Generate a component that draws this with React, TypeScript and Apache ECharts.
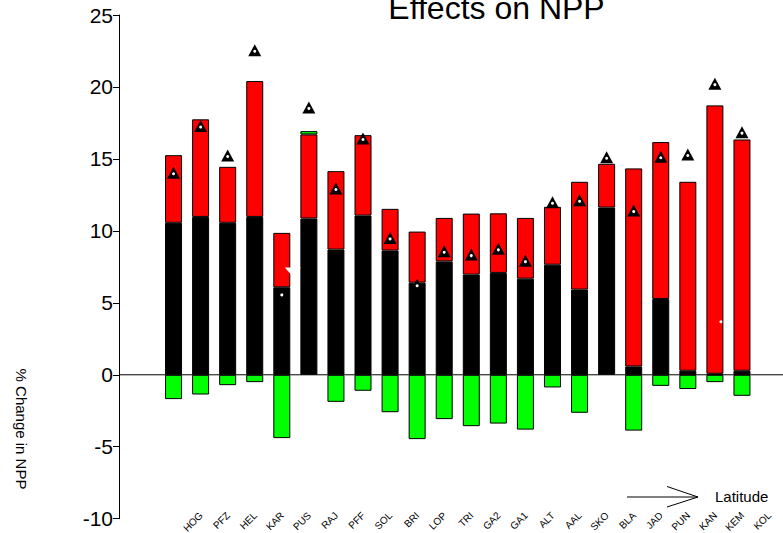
import React, { useEffect, useRef } from "react";
import * as echarts from "echarts";

const FONT = "'Liberation Sans', Arial, Helvetica, sans-serif";

const categories = [
  "HOG", "PFZ", "HEL", "KAR", "PUS", "RAJ", "PFF", "SOL", "BRI", "LOP", "TRI",
  "GA2", "GA1", "ALT", "AAL", "SKO", "BLA", "JAD", "PUN", "KAN", "KEM", "KOL",
];

// black component (bottom of positive stack)
const blackValues = [
  10.56, 10.97, 10.56, 10.97, 6.08, 10.86, 8.7, 11.06, 8.63, 6.4, 7.88,
  6.96, 7.08, 6.68, 7.65, 5.92, 11.62, 0.58, 5.27, 0.28, 0.07, 0.28,
];

// red component (stacked on black)
const redValues = [
  4.7, 6.78, 3.89, 9.44, 3.78, 5.84, 5.45, 5.59, 2.9, 3.55, 3.02,
  4.24, 4.14, 4.22, 4.02, 7.49, 3.04, 13.76, 10.9, 13.13, 18.65, 16.07,
];

// green component (mostly negative)
const greenValues: (number | null)[] = [
  -1.69, -1.37, -0.72, -0.51, -4.4, 0.23, -1.88, -1.11, -2.6, -4.47, -3.08,
  -3.57, -3.39, -3.81, -0.88, -2.64, null, -3.88, -0.77, -0.99, -0.51, -1.46,
];

// net effect (triangles)
const netValues = [
  14.04, 17.28, 15.24, 22.55, 5.62, 18.58, 12.94, 16.42, 9.51, 6.26, 8.58,
  8.35, 8.75, 7.93, 11.99, 12.13, 15.12, 11.41, 15.15, 15.31, 20.23, 16.86,
];

// stray white marks seen in the figure: [category index, value]
const strayWhiteTriangle = [[4, 7.15]];
const strayWhiteDot = [[20, 3.69]];

const Y_MIN = -10;
const Y_MAX = 25;
const Y_STEP = 5;

export default function App() {
  const ref = useRef<HTMLDivElement>(null);

  useEffect(() => {
    if (!ref.current) return;
    const chart = echarts.init(ref.current, undefined, { renderer: "svg" });
    const barBase = {
      type: "bar" as const,
      stack: "npp",
      barWidth: 17,
    };
    chart.setOption({
      animation: false,
      grid: { left: 160, right: 27.5, top: 15, bottom: 14.3, containLabel: false },
      xAxis: {
        type: "category",
        data: categories,
        axisLine: { show: false },
        axisTick: { show: false },
        axisLabel: { show: false },
        splitLine: { show: false },
      },
      yAxis: {
        type: "value",
        min: Y_MIN,
        max: Y_MAX,
        interval: Y_STEP,
        offset: 41,
        axisLine: { show: true, lineStyle: { color: "#000", width: 1 } },
        axisTick: { show: true, length: 6, lineStyle: { color: "#000", width: 1 } },
        axisLabel: { color: "#000", fontSize: 21, margin: 6, fontFamily: FONT },
        splitLine: { show: false },
      },
      series: [
        {
          ...barBase,
          name: "black",
          data: blackValues,
          itemStyle: { color: "#000000", borderColor: "#000", borderWidth: 1 },
        },
        {
          ...barBase,
          name: "red",
          data: redValues,
          itemStyle: { color: "#ff0000", borderColor: "#000", borderWidth: 1 },
        },
        {
          ...barBase,
          name: "green",
          data: greenValues,
          itemStyle: { color: "#00ff00", borderColor: "#000", borderWidth: 1 },
        },
        {
          type: "scatter",
          name: "net",
          data: netValues,
          symbol: "triangle",
          symbolSize: [13, 12],
          itemStyle: { color: "#000", opacity: 1 },
          z: 5,
        },
        {
          type: "scatter",
          name: "netDot",
          data: netValues,
          symbol: "circle",
          symbolSize: 3,
          symbolOffset: [0, 1],
          itemStyle: { color: "#fff", opacity: 1 },
          z: 6,
        },
        {
          type: "scatter",
          name: "strayTri",
          data: strayWhiteTriangle,
          symbol: "triangle",
          symbolRotate: 180,
          symbolSize: [16, 9],
          symbolOffset: [11, 0],
          itemStyle: { color: "#fff", opacity: 1 },
          z: 7,
        },
        {
          type: "scatter",
          name: "strayDot",
          data: strayWhiteDot,
          symbol: "circle",
          symbolSize: 3,
          symbolOffset: [6, 0],
          itemStyle: { color: "#fff", opacity: 1 },
          z: 7,
        },
      ],
    });

    const y0 = chart.convertToPixel({ yAxisIndex: 0 }, 0) as number;
    const yBottom = chart.convertToPixel({ yAxisIndex: 0 }, Y_MIN) as number;
    const W = 783;

    const labelEls = categories.map((c) => {
      const x = chart.convertToPixel({ xAxisIndex: 0 }, c) as number;
      return {
        type: "text",
        x: x + 27.5,
        y: yBottom - 5,
        rotation: Math.PI / 4,
        style: {
          text: c,
          font: `10px ${FONT}`,
          fill: "#000",
          align: "right",
          verticalAlign: "middle",
        },
        z: 10,
      };
    });

    chart.setOption({
      graphic: [
        {
          type: "line",
          shape: { x1: 119, y1: y0, x2: W, y2: y0 },
          style: { stroke: "#000", lineWidth: 1 },
          z: 4,
        },
        {
          type: "text",
          x: 496.5,
          y: 8,
          style: {
            text: "Effects on NPP",
            font: `32px ${FONT}`,
            fill: "#000",
            align: "center",
            verticalAlign: "middle",
          },
        },
        {
          type: "text",
          x: 21.5,
          y: 429,
          rotation: -Math.PI / 2,
          style: {
            text: "% Change in NPP",
            font: `15px ${FONT}`,
            fill: "#000",
            align: "center",
            verticalAlign: "middle",
          },
        },
        {
          type: "line",
          shape: { x1: 627, y1: 497, x2: 698, y2: 497 },
          style: { stroke: "#000", lineWidth: 1 },
        },
        {
          type: "polyline",
          shape: { points: [[667, 486.5], [698, 497], [667, 507]] },
          style: { stroke: "#000", lineWidth: 1, fill: null },
        },
        {
          type: "text",
          x: 715,
          y: 496,
          style: {
            text: "Latitude",
            font: `15px ${FONT}`,
            fill: "#000",
            align: "left",
            verticalAlign: "middle",
          },
        },
        ...labelEls,
      ],
    });

    return () => chart.dispose();
  }, []);

  return (
    <div
      ref={ref}
      style={{ position: "fixed", left: 0, top: 0, width: 783, height: 533, background: "#fff" }}
    />
  );
}
